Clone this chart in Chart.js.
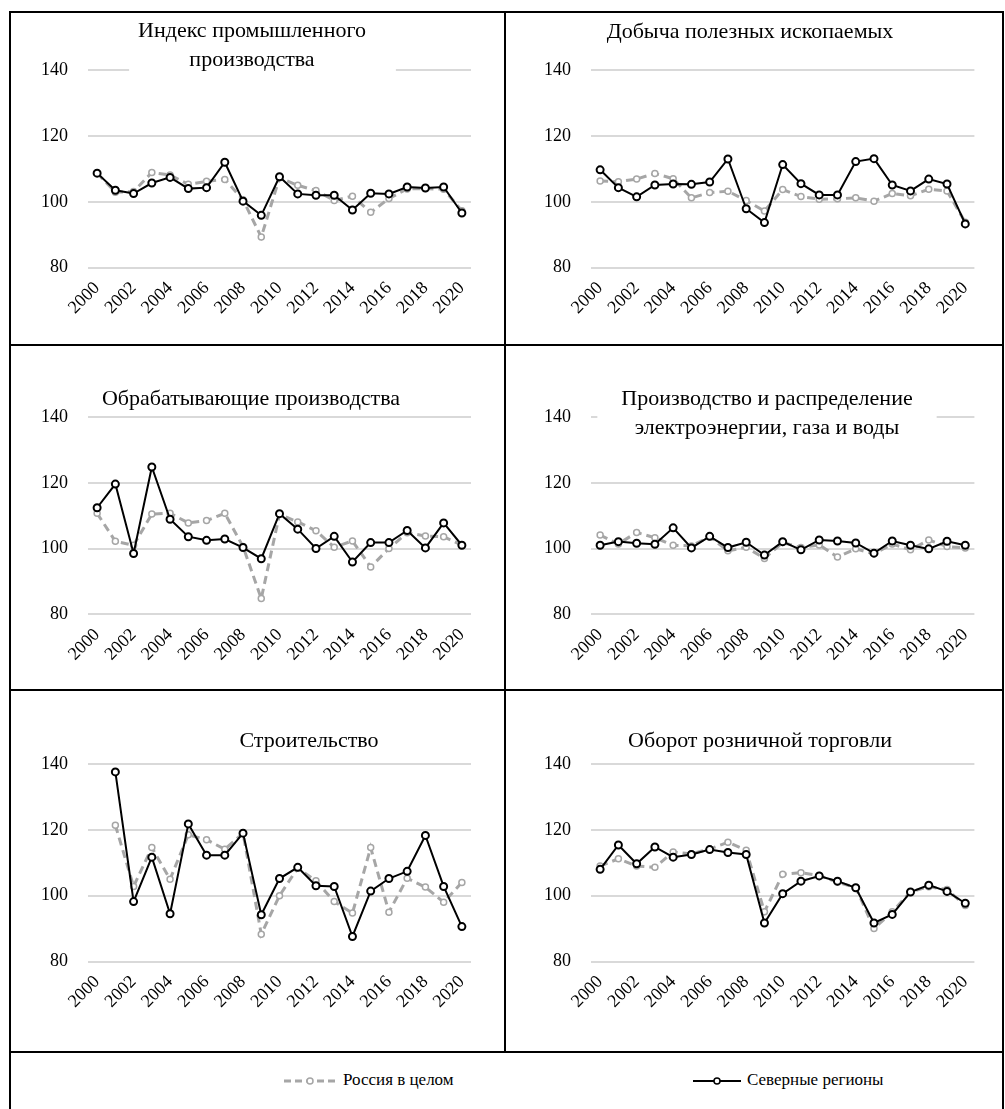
<!DOCTYPE html>
<html><head><meta charset="utf-8">
<script src="https://cdn.jsdelivr.net/npm/chart.js@4.4.1/dist/chart.umd.min.js"></script>
<style>
html,body{margin:0;padding:0;background:#fff;}
body{width:1005px;height:1109px;position:relative;overflow:hidden;font-family:"Liberation Serif","Times New Roman",serif;}
.ln{position:absolute;background:#000;}
canvas{position:absolute;}
.leg{position:absolute;top:1069px;height:22px;font-size:17px;line-height:22px;color:#000;white-space:nowrap;}
.leg svg{vertical-align:middle;margin-right:6px;}
</style></head>
<body>
<div class="ln" style="left:9px;top:11px;width:995px;height:2px"></div>
<div class="ln" style="left:9px;top:11px;width:2px;height:1098px"></div>
<div class="ln" style="left:1002px;top:11px;width:2px;height:1098px"></div>
<div class="ln" style="left:504px;top:11px;width:2px;height:1042px"></div>
<div class="ln" style="left:9px;top:344px;width:995px;height:2px"></div>
<div class="ln" style="left:9px;top:689px;width:995px;height:2px"></div>
<div class="ln" style="left:9px;top:1051px;width:995px;height:2px"></div>

<canvas id="c1"></canvas><canvas id="c2"></canvas>
<canvas id="c3"></canvas><canvas id="c4"></canvas>
<canvas id="c5"></canvas><canvas id="c6"></canvas>

<div class="leg" id="leg1" style="left:283px"><svg width="54" height="10"><line x1="1" y1="5" x2="53" y2="5" stroke="#A6A6A6" stroke-width="3" stroke-dasharray="7,4"/><circle cx="27" cy="5" r="3" fill="#fff" stroke="#A6A6A6" stroke-width="1.5"/></svg><span id="legText1"></span></div>
<div class="leg" id="leg2" style="left:693px"><svg width="48" height="10"><line x1="0" y1="5" x2="48" y2="5" stroke="#000" stroke-width="2"/><circle cx="24" cy="5" r="3" fill="#fff" stroke="#000" stroke-width="1.5"/></svg><span id="legText2"></span></div>

<script>
// ---------- data ----------
const years = ['2000','2001','2002','2003','2004','2005','2006','2007','2008','2009','2010',
               '2011','2012','2013','2014','2015','2016','2017','2018','2019','2020'];
const yTickValues = [80, 100, 120, 140];
const seriesNames = ['Россия в целом', 'Северные регионы'];

const panelTitles = [
  ['Индекс промышленного', 'производства'],
  ['Добыча полезных ископаемых'],
  ['Обрабатывающие производства'],
  ['Производство и распределение', 'электроэнергии, газа и воды'],
  ['Строительство'],
  ['Оборот розничной торговли']
];

const indexRussia  = [108.7,102.9,103.1,108.9,108.1,105.3,106.2,106.8,100.6,89.3,107.3,105.0,103.4,100.4,101.7,96.8,101.0,103.9,104.0,103.8,97.3];
const indexNorth   = [108.7,103.5,102.5,105.7,107.4,104.0,104.3,112.0,100.2,95.9,107.6,102.4,102.0,102.0,97.5,102.6,102.4,104.5,104.2,104.5,96.6];

const miningRussia = [106.3,106.1,106.9,108.6,107.0,101.2,102.8,103.2,100.4,97.2,103.7,101.6,100.8,100.9,101.2,100.2,102.5,101.8,103.8,103.3,93.8];
const miningNorth  = [109.7,104.3,101.5,105.1,105.4,105.3,106.0,113.0,97.9,93.7,111.3,105.5,102.1,102.1,112.2,113.1,105.1,103.3,106.9,105.4,93.3];

const manufRussia  = [110.7,102.2,101.0,110.5,110.7,107.8,108.5,110.7,100.6,84.8,110.4,108.1,105.4,100.4,102.3,94.4,100.0,104.8,103.8,103.6,101.0];
const manufNorth   = [112.4,119.6,98.5,124.8,108.9,103.6,102.5,102.9,100.3,96.9,110.6,105.9,100.0,103.7,95.9,101.8,101.8,105.5,100.2,107.8,101.0];

const energyRussia = [104.1,101.4,104.9,103.3,101.0,100.8,103.6,99.3,100.4,97.0,101.8,100.3,101.1,97.4,99.9,98.4,101.4,99.6,102.6,100.6,100.2];
const energyNorth  = [101.0,102.1,101.6,101.3,106.3,100.2,103.7,100.3,101.9,98.0,102.1,99.6,102.6,102.3,101.7,98.6,102.3,101.0,99.9,102.2,101.0];

const constrRussia = [null,121.4,102.8,114.6,105.0,118.5,117.0,114.1,119.0,88.3,100.0,108.4,104.5,98.2,94.7,114.6,95.0,105.3,102.6,98.0,104.0];
const constrNorth  = [null,137.6,98.2,111.7,94.5,121.8,112.3,112.3,119.0,94.2,105.2,108.6,103.0,102.8,87.6,101.4,105.2,107.4,118.3,102.8,90.6];

const retailRussia = [109.0,111.2,109.0,108.6,113.3,112.7,114.2,116.2,113.8,95.1,106.5,107.0,106.1,104.1,102.5,90.0,95.1,101.2,102.7,101.9,97.0];
const retailNorth  = [108.0,115.4,109.7,114.8,111.7,112.5,114.0,113.1,112.5,91.7,100.6,104.4,106.0,104.4,102.4,91.7,94.3,101.1,103.2,101.3,97.7];

// ---------- layout ----------
const FONT = '"Liberation Serif", "Times New Roman", serif';
const GRAY = '#A6A6A6';

const titlePlugin = {
  id: 'panelTitle',
  beforeDatasetsDraw(chart, args, opts) {
    const ctx = chart.ctx;
    ctx.save();
    ctx.font = '22px ' + FONT;
    ctx.textAlign = 'center';
    ctx.textBaseline = 'alphabetic';
    let maxW = 0;
    opts.lines.forEach(t => { maxW = Math.max(maxW, ctx.measureText(t).width); });
    const top = opts.y0 - 19;
    const bottom = opts.y0 + (opts.lines.length - 1) * opts.lh + 7;
    ctx.fillStyle = '#fff';
    ctx.fillRect(opts.cx - maxW / 2 - opts.padL, top, maxW + opts.padL + opts.padR, bottom - top);
    ctx.fillStyle = '#000';
    opts.lines.forEach((t, i) => ctx.fillText(t, opts.cx, opts.y0 + i * opts.lh));
    ctx.restore();
  }
};

function makePanel(id, cell, area, title, russia, north) {
  const cv = document.getElementById(id);
  const [cx, cy, cw, ch] = cell;
  cv.style.left = cx + 'px';
  cv.style.top = cy + 'px';
  cv.width = cw; cv.height = ch;
  const [aL, aT, aR, aB] = area;
  return new Chart(cv, {
    type: 'line',
    data: {
      labels: years,
      datasets: [
        {
          label: seriesNames[0], data: russia, order: 2,
          borderColor: GRAY, borderWidth: 3, borderDash: [8, 5],
          pointRadius: 3, pointBorderWidth: 1.5, pointBackgroundColor: '#fff', pointBorderColor: GRAY,
          tension: 0, spanGaps: false
        },
        {
          label: seriesNames[1], data: north, order: 1,
          borderColor: '#000', borderWidth: 2,
          pointRadius: 3.5, pointBorderWidth: 2, pointBackgroundColor: '#fff', pointBorderColor: '#000',
          tension: 0, spanGaps: false
        }
      ]
    },
    options: {
      responsive: false, animation: false, devicePixelRatio: 1,
      layout: { padding: { top: aT - cy, right: cx + cw - aR, left: 0, bottom: 0 } },
      plugins: {
        legend: { display: false }, tooltip: { enabled: false },
        panelTitle: { lines: title.lines, cx: title.cx - cx, y0: title.y0 - cy, lh: 29,
                      padL: title.padL, padR: title.padR }
      },
      scales: {
        x: {
          type: 'category', offset: true,
          grid: { display: false, drawTicks: false }, border: { display: false },
          ticks: {
            autoSkip: false, maxRotation: 45, minRotation: 45, padding: 10,
            color: '#000', font: { family: FONT, size: 18 },
            callback: (v, i) => (i % 2 === 0 ? years[i] : '')
          },
          afterFit: s => { s.height = cy + ch - aB; }
        },
        y: {
          min: 80, max: 140,
          afterBuildTicks: s => { s.ticks = yTickValues.map(v => ({ value: v })); },
          grid: { color: '#D9D9D9', lineWidth: 2, drawTicks: false }, border: { display: false },
          ticks: { padding: 20, color: '#000', font: { family: FONT, size: 18 } },
          afterFit: s => { s.width = aL - cx; }
        }
      }
    },
    plugins: [titlePlugin]
  });
}

makePanel('c1', [11, 13, 493, 331], [88, 70, 471, 267.7],
  { lines: panelTitles[0], cx: 252, y0: 37, padL: 9, padR: 30 }, indexRussia, indexNorth);
makePanel('c2', [506, 13, 496, 331], [591, 70, 974.4, 267.7],
  { lines: panelTitles[1], cx: 750, y0: 38, padL: 12, padR: 12 }, miningRussia, miningNorth);
makePanel('c3', [11, 346, 493, 343], [88, 417, 471, 614.3],
  { lines: panelTitles[2], cx: 251, y0: 405, padL: 12, padR: 12 }, manufRussia, manufNorth);
makePanel('c4', [506, 346, 496, 343], [591, 417, 974.4, 614.3],
  { lines: panelTitles[3], cx: 767, y0: 405, padL: 24, padR: 24 }, energyRussia, energyNorth);
makePanel('c5', [11, 691, 493, 360], [88, 764, 471, 961.5],
  { lines: panelTitles[4], cx: 309, y0: 747, padL: 12, padR: 12 }, constrRussia, constrNorth);
makePanel('c6', [506, 691, 496, 360], [591, 764, 974.4, 961.5],
  { lines: panelTitles[5], cx: 760, y0: 747, padL: 12, padR: 12 }, retailRussia, retailNorth);

document.getElementById('legText1').textContent = seriesNames[0];
document.getElementById('legText2').textContent = seriesNames[1];
</script>
</body></html>
